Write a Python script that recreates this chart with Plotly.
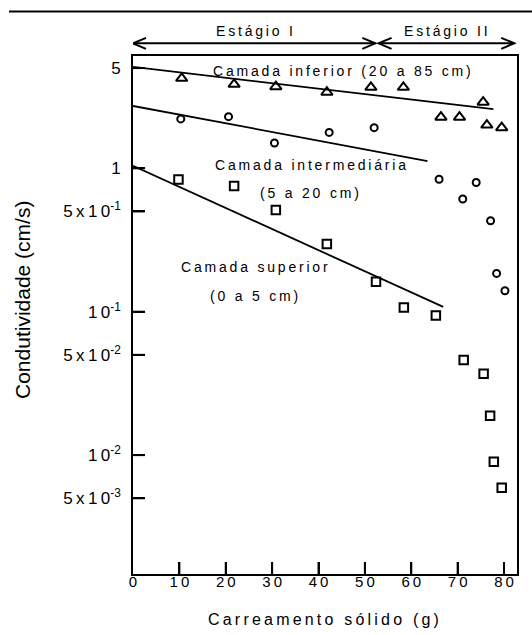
import plotly.graph_objects as go

# ---------------- data ----------------
tri_x = [10.5, 21.8, 30.8, 41.8, 51.3, 58.3, 66.4, 70.4, 75.5, 76.3, 79.5]
tri_y = [4.24, 3.85, 3.71, 3.39, 3.67, 3.67, 2.27, 2.27, 2.89, 2.00, 1.92]

cir_x = [10.3, 20.6, 30.5, 42.3, 52.0, 66.0, 74.0, 71.1, 77.1, 78.4, 80.2]
cir_y = [2.21, 2.29, 1.50, 1.78, 1.92, 0.839, 0.796, 0.611, 0.431, 0.185, 0.140]

sq_x = [9.8, 21.8, 30.8, 41.8, 52.4, 58.4, 65.3, 71.3, 75.6, 77.0, 77.8, 79.5]
sq_y = [0.835, 0.753, 0.512, 0.297, 0.162, 0.107, 0.0941, 0.0460, 0.0370, 0.0188, 0.0090, 0.00593]

# fitted trend lines (start / end)
tri_fit_x = [0, 77.7]
tri_fit_y = [5.09, 2.59]
cir_fit_x = [0, 63.5]
cir_fit_y = [2.72, 1.124]
sq_fit_x = [0, 66.9]
sq_fit_y = [1.04, 0.108]

x_ticks = [0, 10, 20, 30, 40, 50, 60, 70, 80]
y_ticks = [5, 1, 0.5, 0.1, 0.05, 0.01, 0.005]
y_ticktext_raw = [("5", None), ("1", None), ("5x10", "-1"), ("10", "-1"),
                  ("5x10", "-2"), ("10", "-2"), ("5x10", "-3")]

stage_edges = [0, 52.6, 82.2]
stage_labels = ["Estágio I", "Estágio II"]

FONT = "Liberation Sans, Arial, sans-serif"
TS = "\u2009"


def spaced(s):
    return TS.join(s)


# ---------------- layout geometry ----------------
W, H = 532, 635
ML, MR, MT, MB = 133, 15, 56, 61
PW, PH = W - ML - MR, H - MT - MB
XR = [0, 82.8]
YR = [-2.829, 0.783]
TICKLEN = 12


def px_x(px):
    return (px - ML) / PW


def px_y(py):
    return (H - MB - py) / PH


fig = go.Figure()

line_style = dict(color="black", width=1.8)
fig.add_trace(go.Scatter(x=tri_fit_x, y=tri_fit_y, mode="lines", line=line_style, showlegend=False))
fig.add_trace(go.Scatter(x=cir_fit_x, y=cir_fit_y, mode="lines", line=line_style, showlegend=False))
fig.add_trace(go.Scatter(x=sq_fit_x, y=sq_fit_y, mode="lines", line=line_style, showlegend=False))

fig.add_trace(go.Scatter(x=tri_x, y=tri_y, mode="markers", showlegend=False,
                         marker=dict(symbol="triangle-up-open", size=10, color="black",
                                     line=dict(width=2, color="black"))))
fig.add_trace(go.Scatter(x=cir_x, y=cir_y, mode="markers", showlegend=False,
                         marker=dict(symbol="circle-open", size=7, color="black",
                                     line=dict(width=2, color="black"))))
fig.add_trace(go.Scatter(x=sq_x, y=sq_y, mode="markers", showlegend=False,
                         marker=dict(symbol="square-open", size=8.5, color="black",
                                     line=dict(width=2, color="black"))))

# inward tick marks drawn as a line trace at the tick values
xt_len = TICKLEN / PW * (XR[1] - XR[0])
y_bot = 10 ** YR[0]
y_tick_top = 10 ** (YR[0] + TICKLEN / PH * (YR[1] - YR[0]))
tx, ty = [], []
for v in x_ticks[1:]:
    tx += [v, v, None]
    ty += [y_bot, y_tick_top, None]
for v in y_ticks:
    tx += [XR[0], XR[0] + xt_len, None]
    ty += [v, v, None]
fig.add_trace(go.Scatter(x=tx, y=ty, mode="lines", line=dict(color="black", width=2),
                         showlegend=False, hoverinfo="skip"))

y_ticktext = []
for base, sup in y_ticktext_raw:
    t = spaced(base)
    if sup:
        t += "<sup>" + sup + "</sup>"
    t += TS + TS
    y_ticktext.append(t)

fig.update_layout(
    xaxis=dict(range=XR, tickmode="array", tickvals=x_ticks,
               ticktext=[spaced(str(v)) for v in x_ticks],
               ticks="inside", ticklen=TICKLEN, tickwidth=2, tickcolor="black",
               showline=True, linewidth=2, linecolor="black", mirror=True,
               showgrid=False, zeroline=False, ticklabelstandoff=-7,
               tickfont=dict(family=FONT, size=15, color="black")),
    yaxis=dict(type="log", range=YR, tickmode="array", tickvals=y_ticks, ticktext=y_ticktext,
               ticks="inside", ticklen=TICKLEN, tickwidth=2, tickcolor="black",
               showline=True, linewidth=2, linecolor="black", mirror=True,
               showgrid=False, zeroline=False,
               tickfont=dict(family=FONT, size=17, color="black")),
)

ann = []
# text labels inside plot (y in log10 units for log axis)
inner = [
    ("Camada inferior (20 a 85 cm)", 45.0, 0.681),
    ("Camada intermediária", 38.2, 0.023),
    ("(5 a 20 cm)", 38.1, -0.174),
    ("Camada superior", 26.3, -0.690),
    ("(0 a 5 cm)", 26.0, -0.890),
]
for txt, x, ly in inner:
    ann.append(dict(text=spaced(txt), x=x, y=ly, xref="x", yref="y", showarrow=False,
                    font=dict(family=FONT, size=14, color="black"),
                    xanchor="center", yanchor="middle"))

# stage labels
for i, lab in enumerate(stage_labels):
    xc = (stage_edges[i] + stage_edges[i + 1]) / 2
    ann.append(dict(text=spaced(lab), x=xc, y=px_y(31), xref="x", yref="paper", showarrow=False,
                    font=dict(family=FONT, size=14, color="black"),
                    xanchor="center", yanchor="middle"))

# axis titles
ann.append(dict(text=spaced("Carreamento sólido (g)"), x=px_x(323), y=px_y(619),
                xref="paper", yref="paper", showarrow=False,
                font=dict(family=FONT, size=16, color="black"),
                xanchor="center", yanchor="middle"))
ann.append(dict(text="Condutividade (cm/s)", x=px_x(22), y=px_y(300),
                xref="paper", yref="paper", showarrow=False, textangle=-90,
                font=dict(family=FONT, size=21, color="black"),
                xanchor="center", yanchor="middle"))

shapes = []
# top rule
shapes.append(dict(type="line", xref="paper", yref="paper", x0=px_x(9), x1=px_x(532),
                   y0=px_y(11.5), y1=px_y(11.5), line=dict(color="black", width=2)))
# stage arrows
ya = px_y(43.3)
dx = 13 / (PW / (XR[1] - XR[0]))
dy = 5.5 / PH
gap = 0.35
for i in range(2):
    a = stage_edges[i] + (gap if i > 0 else 0)
    b = stage_edges[i + 1] - (gap if i == 0 else 0)
    shapes.append(dict(type="line", xref="x", yref="paper", x0=a, x1=b, y0=ya, y1=ya,
                       line=dict(color="black", width=2)))
    path_l = f"M {a + dx},{ya + dy} L {a},{ya} L {a + dx},{ya - dy}"
    path_r = f"M {b - dx},{ya + dy} L {b},{ya} L {b - dx},{ya - dy}"
    for p in (path_l, path_r):
        shapes.append(dict(type="path", xref="x", yref="paper", path=p,
                           line=dict(color="black", width=2)))

fig.update_layout(width=W, height=H, autosize=False,
                  margin=dict(l=ML, r=MR, t=MT, b=MB),
                  paper_bgcolor="white", plot_bgcolor="white",
                  annotations=ann, shapes=shapes,
                  font=dict(family=FONT, color="black"))

fig.write_html("out.html")
